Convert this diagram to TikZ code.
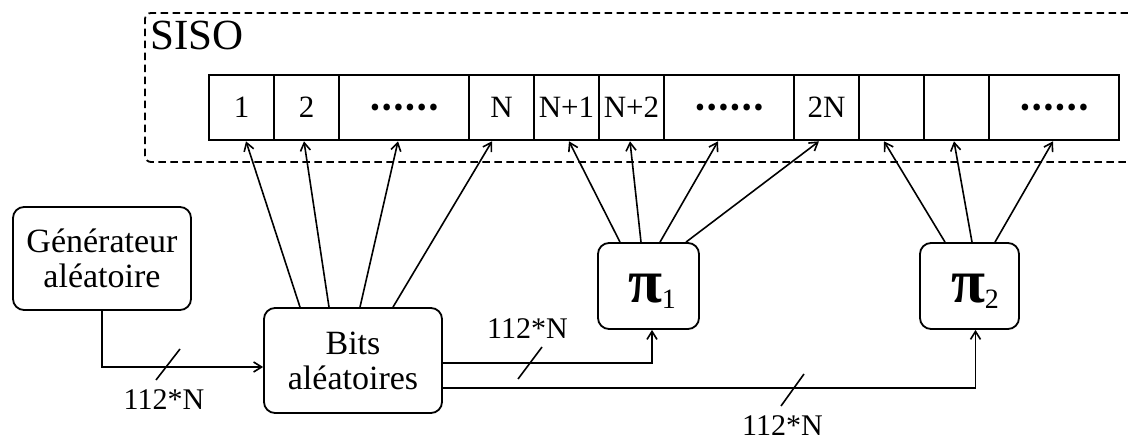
\documentclass[tikz,border=0pt]{standalone}
\usepackage{fontspec}
\setmainfont{Liberation Serif}
\newfontfamily\cjkf{Noto Sans CJK SC}
\usetikzlibrary{arrows.meta,calc}
\begin{document}
\begin{tikzpicture}[x=1pt,y=-1pt,
  box/.style={draw, line width=1.8pt, rounded corners=11pt, align=center, inner sep=0pt, font=\fontsize{34}{35}\selectfont},
  cell/.style={draw, line width=2.6pt, minimum height=65pt, inner sep=0pt, font=\fontsize{31}{31}\selectfont},
  dots/.style={font=\cjkf\bfseries\fontsize{31}{31}\selectfont},
  arr/.style={line width=1.6pt, -{Straight Barb[length=8pt,width=10pt,line width=1.6pt]}},
  lab/.style={font=\fontsize{30}{30}\selectfont, inner sep=0pt, anchor=base},
  pi/.style={anchor=base, inner sep=0pt, font=\fontsize{62}{62}\selectfont\bfseries},
  frame/.style={line width=1.8pt, dash pattern=on 7.5pt off 4.5pt, rounded corners=6pt}]
\useasboundingbox (0,0) rectangle (1128,441);

% SISO frame
\draw[frame] (1128,13) -- (145,13) -- (145,162) -- (1128,162);
\node[anchor=base west, inner sep=0pt, font=\fontsize{43}{43}\selectfont] (siso) at (150,50) {SISO};

% register cells
\node[cell, minimum width=65pt]  (c1)  at (241.5,107.5) {1};
\node[cell, minimum width=65pt]  (c2)  at (306.5,107.5) {2};
\node[cell, minimum width=130pt, dots] (c3)  at (404,107.5)   {……};
\node[cell, minimum width=65pt]  (c4)  at (501.5,107.5) {N};
\node[cell, minimum width=65pt]  (c5)  at (566.5,107.5) {N+1};
\node[cell, minimum width=65pt]  (c6)  at (631.5,107.5) {N+2};
\node[cell, minimum width=130pt, dots] (c7)  at (729,107.5)   {……};
\node[cell, minimum width=65pt]  (c8)  at (826.5,107.5) {2N};
\node[cell, minimum width=65pt]  (c9)  at (891.5,107.5) {};
\node[cell, minimum width=65pt]  (c10) at (956.5,107.5) {};
\node[cell, minimum width=130pt, dots] (c11) at (1054,107.5)  {……};

% blocks
\node[box, minimum width=178pt, minimum height=103pt] (gen) at (102,258.5) {Générateur\\aléatoire};
\node[box, minimum width=178pt, minimum height=105pt] (bits) at (353,360.5) {Bits\\aléatoires};
\node[box, minimum width=101pt, minimum height=86pt] (p1) at (648.5,286) {};
\node[box, minimum width=99pt, minimum height=86pt] (p2) at (969.5,286) {};
\node[pi] (p1t) at (652,302) {π\raisebox{-6pt}{\mdseries\fontsize{28}{28}\selectfont 1}};
\node[pi] (p2t) at (975,302) {π\raisebox{-6pt}{\mdseries\fontsize{28}{28}\selectfont 2}};

% arrows from Bits to cells
\draw[arr] ([xshift=-53pt]bits.north) -- ([xshift=4.5pt]c1.south);
\draw[arr] ([xshift=-24pt]bits.north) -- ([xshift=-2.5pt]c2.south);
\draw[arr] ([xshift=7pt]bits.north)   -- ([xshift=-6pt]c3.south);
\draw[arr] ([xshift=40pt]bits.north)  -- ([xshift=-9.5pt]c4.south);

% arrows from pi1
\draw[arr] ([xshift=-28.5pt]p1.north) -- ([xshift=2.5pt]c5.south);
\draw[arr] ([xshift=-7.5pt]p1.north)  -- ([xshift=-1.5pt]c6.south);
\draw[arr] ([xshift=11.5pt]p1.north)  -- ([xshift=-11pt]c7.south);
\draw[arr] ([xshift=37.5pt]p1.north)  -- ([xshift=-7.5pt]c8.south);

% arrows from pi2
\draw[arr] ([xshift=-24.5pt]p2.north) -- ([xshift=-7.5pt]c9.south);
\draw[arr] ([xshift=2.5pt]p2.north)   -- ([xshift=-2.5pt]c10.south);
\draw[arr] ([xshift=25.5pt]p2.north)  -- ([xshift=-1pt]c11.south);

% bus connections
\draw[arr] (gen.south) |- ([yshift=-6.5pt]bits.west);
\draw[arr] ([yshift=-2.5pt]bits.east) -| ([xshift=3.5pt]p1.south);
\draw[arr] ([yshift=-27.5pt]bits.east) -| ([xshift=6pt]p2.south);

% bus width marks
\draw[line width=1.6pt] (156,380) -- (180,349);
\draw[line width=1.6pt] (518,379) -- (542,347);
\draw[line width=1.6pt] (781,406) -- (804,374);
\node[lab] (l1) at (164,409) {112*N};
\node[lab] (l2) at (527.5,338) {112*N};
\node[lab] (l3) at (782.5,435) {112*N};
\end{tikzpicture}
\end{document}
